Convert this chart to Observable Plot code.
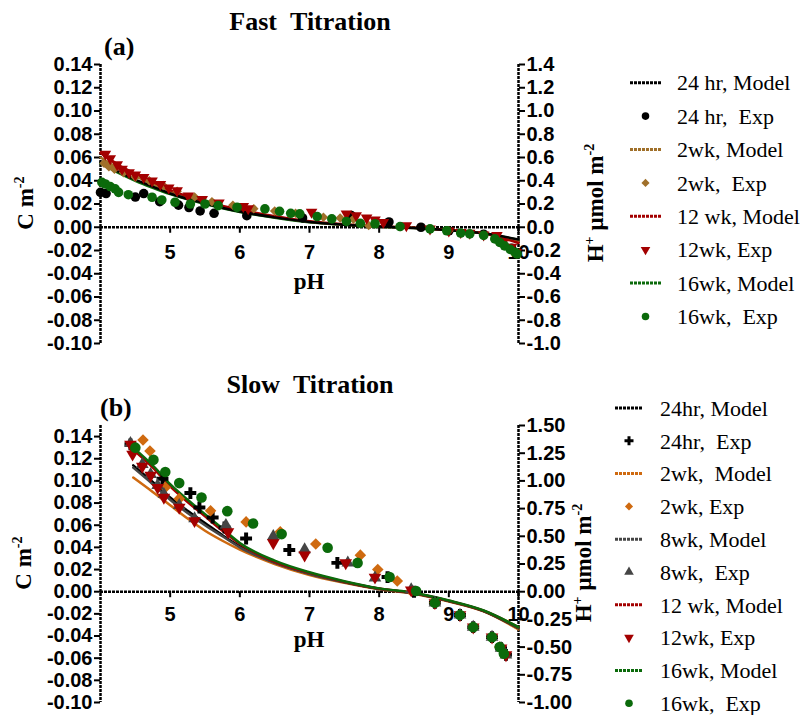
<!DOCTYPE html>
<html><head><meta charset="utf-8">
<script src="https://cdn.jsdelivr.net/npm/d3@7"></script>
<script src="https://cdn.jsdelivr.net/npm/@observablehq/plot@0.6"></script>
<style>
body{margin:0;background:#fff;}
#root{position:relative;width:807px;height:715px;overflow:hidden;background:#fff;}
.abs{position:absolute;white-space:nowrap;line-height:1;}
.title{font-family:"Liberation Serif",serif;font-weight:bold;font-size:26px;transform:translate(-50%,-50%);}
.tag{font-family:"Liberation Serif",serif;font-weight:bold;font-size:26px;transform:translate(0,-50%);}
.ylab{font-family:"Liberation Serif",serif;font-weight:bold;font-size:23px;transform:translate(-50%,-50%) rotate(-90deg);}
.xlab{font-family:"Liberation Serif",serif;font-weight:bold;font-size:23px;transform:translate(-50%,-50%);}
sup{font-size:0.62em;vertical-align:0.6em;line-height:0;}
</style></head><body><div id="root"></div><script>
// ---------- Panel (a): Fast Titration ----------
const fastModelPH   = [4.0, 4.25, 4.5, 4.75, 5.0, 5.5, 6.0, 6.5, 7.0, 7.5, 8.0, 8.5, 9.0, 9.5, 10.0];
const fast24hrModel = [0.056, 0.048, 0.041, 0.035, 0.029, 0.0205, 0.0135, 0.0085, 0.0045, 0.0022, 0.0006, -0.0006, -0.0025, -0.0052, -0.0105];
const fast2wkModel  = [0.060, 0.051, 0.044, 0.037, 0.031, 0.0215, 0.0143, 0.009, 0.0048, 0.0023, 0.0007, -0.0005, -0.0025, -0.0053, -0.012];
const fast12wkModel = [0.064, 0.054, 0.046, 0.039, 0.032, 0.0225, 0.015, 0.0095, 0.0052, 0.0025, 0.0008, -0.0005, -0.0025, -0.0055, -0.0135];
const fast16wkModel = [0.055, 0.047, 0.040, 0.034, 0.0285, 0.020, 0.0132, 0.0082, 0.0043, 0.0021, 0.0005, -0.0006, -0.0026, -0.0052, -0.011];

const fast24hrExpPH = [4.0, 4.08, 4.5, 4.62, 4.85, 5.12, 5.27, 5.43, 5.63, 6.1, 6.9, 7.6, 8.14, 8.6, 9.0, 9.5, 9.9];
const fast24hrExpC  = [0.030, 0.029, 0.026, 0.029, 0.022, 0.019, 0.017, 0.014, 0.012, 0.010, 0.008, 0.010, 0.0045, 0.0, -0.003, -0.006, -0.018];
const fast2wkExpPH  = [4.05, 4.12, 4.2, 4.33, 4.5, 4.7, 4.9, 5.1, 5.35, 5.6, 5.9, 6.2, 6.5, 6.8, 7.2, 7.44, 7.63, 7.85, 8.3, 9.0, 9.5, 9.9];
const fast2wkExpC   = [0.055, 0.052, 0.050, 0.047, 0.043, 0.040, 0.036, 0.031, 0.026, 0.022, 0.019, 0.016, 0.014, 0.012, 0.0086, 0.008, 0.007, 0.0015, 0.0005, -0.003, -0.007, -0.020];
const fast12wkExpPH = [4.07, 4.14, 4.24, 4.31, 4.41, 4.5, 4.62, 4.74, 4.86, 4.98, 5.10, 5.26, 5.46, 5.70, 6.05, 6.12, 7.03, 7.53, 7.67, 7.82, 7.94, 8.06, 8.39, 8.73, 9.0, 9.17, 9.3, 9.5, 9.69, 9.78, 9.9, 9.97];
const fast12wkExpC  = [0.063, 0.059, 0.054, 0.050, 0.047, 0.045, 0.043, 0.040, 0.037, 0.034, 0.0315, 0.027, 0.024, 0.021, 0.018, 0.016, 0.013, 0.0115, 0.010, 0.008, 0.0063, 0.0043, 0.0015, -0.0014, -0.003, -0.0043, -0.005, -0.0065, -0.007, -0.013, -0.017, -0.0215];
const fast16wkExpPH = [4.02, 4.07, 4.14, 4.21, 4.26, 4.4, 4.74, 4.88, 5.07, 5.29, 5.5, 5.69, 5.96, 6.36, 6.57, 6.73, 6.86, 7.11, 7.32, 7.53, 7.73, 7.94, 8.3, 8.73, 8.97, 9.17, 9.3, 9.5, 9.66, 9.73, 9.8, 9.88, 9.95, 9.98];
const fast16wkExpC  = [0.0386, 0.0372, 0.035, 0.033, 0.030, 0.028, 0.0258, 0.0235, 0.0215, 0.020, 0.020, 0.0186, 0.0172, 0.0158, 0.0137, 0.012, 0.0115, 0.0092, 0.0072, 0.005, 0.0034, 0.003, 0.0006, -0.0014, -0.003, -0.005, -0.0057, -0.007, -0.010, -0.013, -0.016, -0.019, -0.0215, -0.023];

const fastLeftTicks  = [-0.10, -0.08, -0.06, -0.04, -0.02, 0.00, 0.02, 0.04, 0.06, 0.08, 0.10, 0.12, 0.14];
const fastRightTicks = [-1.0, -0.8, -0.6, -0.4, -0.2, 0.0, 0.2, 0.4, 0.6, 0.8, 1.0, 1.2, 1.4];
const fastLegend = ["24 hr, Model", "24 hr,  Exp", "2wk, Model", "2wk,  Exp", "12 wk, Model", "12wk, Exp", "16wk, Model", "16wk,  Exp"];

// ---------- Panel (b): Slow Titration ----------
const slowModelPH   = [4.47, 4.75, 5.0, 5.25, 5.5, 5.75, 6.0, 6.5, 7.0, 7.5, 8.0, 8.5, 9.0, 9.5, 10.0];
const slow24hrModel = [0.114, 0.099, 0.085, 0.073, 0.062, 0.051, 0.041, 0.0265, 0.0163, 0.0088, 0.0027, -0.0014, -0.0084, -0.0174, -0.033];
const slow2wkModel  = [0.103, 0.090, 0.078, 0.066, 0.055, 0.046, 0.038, 0.025, 0.015, 0.008, 0.0022, -0.0018, -0.0088, -0.0178, -0.034];
const slow8wkModel  = [0.112, 0.097, 0.083, 0.071, 0.060, 0.050, 0.040, 0.026, 0.016, 0.0085, 0.0025, -0.0015, -0.0085, -0.0175, -0.033];
const slow12wkModel = [0.128, 0.112, 0.095, 0.081, 0.068, 0.055, 0.043, 0.027, 0.017, 0.009, 0.0028, -0.0012, -0.0082, -0.0172, -0.032];
const slow16wkModel = [0.130, 0.114, 0.097, 0.083, 0.070, 0.057, 0.044, 0.028, 0.0175, 0.0095, 0.003, -0.001, -0.008, -0.017, -0.032];

const slow24hrExpPH = [4.43, 4.89, 5.29, 5.42, 5.61, 5.78, 6.09, 6.71, 7.40, 8.12, 8.5, 8.8, 9.16, 9.35, 9.62, 9.75, 9.82];
const slow24hrExpC  = [0.133, 0.102, 0.089, 0.076, 0.067, 0.058, 0.048, 0.0376, 0.026, 0.0132, 0.0, -0.010, -0.021, -0.032, -0.041, -0.051, -0.057];
const slow2wkExpPH  = [4.61, 4.71, 4.93, 5.13, 5.58, 6.09, 6.58, 7.09, 7.73, 7.98, 8.26, 8.46, 8.8, 9.16, 9.35, 9.62, 9.73, 9.8];
const slow2wkExpC   = [0.137, 0.127, 0.094, 0.084, 0.073, 0.063, 0.054, 0.043, 0.033, 0.020, 0.0096, 0.0006, -0.010, -0.021, -0.032, -0.041, -0.050, -0.056];
const slow8wkExpPH  = [4.43, 4.6, 4.72, 4.82, 4.91, 5.13, 5.35, 5.8, 6.48, 6.93, 7.55, 7.94, 8.46, 8.8, 9.16, 9.35, 9.62, 9.75, 9.82];
const slow8wkExpC   = [0.134, 0.115, 0.106, 0.096, 0.088, 0.078, 0.066, 0.060, 0.050, 0.038, 0.026, 0.0126, 0.002, -0.010, -0.021, -0.032, -0.041, -0.051, -0.057];
const slow12wkExpPH = [4.43, 4.46, 4.6, 4.72, 4.82, 4.91, 5.13, 5.35, 5.83, 6.48, 6.93, 7.52, 7.94, 8.46, 8.8, 9.16, 9.35, 9.62, 9.75, 9.82];
const slow12wkExpC  = [0.133, 0.124, 0.113, 0.105, 0.094, 0.085, 0.076, 0.064, 0.054, 0.044, 0.033, 0.026, 0.013, 0.0015, -0.010, -0.021, -0.032, -0.041, -0.051, -0.057];
const slow16wkExpPH = [4.50, 4.76, 4.93, 5.13, 5.45, 5.82, 6.19, 6.60, 7.26, 7.69, 8.15, 8.53, 8.80, 9.16, 9.35, 9.62, 9.73, 9.79];
const slow16wkExpC  = [0.130, 0.119, 0.108, 0.098, 0.085, 0.0727, 0.0616, 0.052, 0.0396, 0.026, 0.0132, 0.0006, -0.010, -0.021, -0.032, -0.041, -0.050, -0.056];

const slowLeftTicks  = [-0.10, -0.08, -0.06, -0.04, -0.02, 0.00, 0.02, 0.04, 0.06, 0.08, 0.10, 0.12, 0.14];
const slowRightTicks = [-1.00, -0.75, -0.50, -0.25, 0.00, 0.25, 0.50, 0.75, 1.00, 1.25, 1.50];
const slowLegend = ["24hr, Model", "24hr,  Exp", "2wk,  Model", "2wk, Exp", "8wk, Model", "8wk,  Exp", "12 wk, Model", "12wk, Exp", "16wk, Model", "16wk,  Exp"];

const xTicks = [5, 6, 7, 8, 9, 10];
const xDomain = [4, 10];

// ---------- styles ----------
const cBlack = "#000000", cBrown = "#a0702a", cRed = "#a30000", cGreen = "#0b6a0b", cOrange = "#cf6a10", cGray = "#454545";
const triangleDown = {
  draw(context, size) {
    const y = -Math.sqrt(size / (Math.sqrt(3) * 3));
    context.moveTo(0, -y * 2);
    context.lineTo(-Math.sqrt(3) * y, y);
    context.lineTo(Math.sqrt(3) * y, y);
    context.closePath();
  }
};

const rows = (xs, ys) => xs.map((x, i) => ({pH: x, C: ys[i]}));

function panel(cfg) {
  const marks = [];
  marks.push(Plot.ruleY([0], {stroke: "black", strokeWidth: 2.5, strokeDasharray: "3,1"}));
  marks.push(Plot.ruleX(xDomain, {stroke: "black", strokeWidth: 2.5, strokeDasharray: "3,1"}));
  marks.push(Plot.axisY(cfg.leftTicks, {anchor: "left", tickFormat: d => d.toFixed(2), tickSize: 6, tickPadding: 2, strokeWidth: 2, label: null}));
  marks.push(Plot.axisY(cfg.rightTicks.map(t => t / 10), {anchor: "right", tickFormat: d => (d * 10).toFixed(cfg.rightDigits), tickSize: 6, tickPadding: 2, strokeWidth: 2, label: null}));
  marks.push(Plot.ruleX(xTicks, {y1: 0, y2: 0, insetBottom: -6, stroke: "black", strokeWidth: 2}));
  marks.push(Plot.text(xTicks, {x: d => d, y: 0, dy: cfg.tickDy, text: d => String(d), fontWeight: "bold", fontSize: 20}));
  for (const m of cfg.models) {
    marks.push(Plot.line(rows(cfg.modelPH, m.values), {x: "pH", y: "C", stroke: m.color, strokeWidth: 2.5, curve: "monotone-x"}));
  }
  for (const e of cfg.exps) {
    marks.push(Plot.dot(rows(e.x, e.y), {x: "pH", y: "C", fill: e.color, stroke: null, symbol: e.symbol, r: e.r}));
  }
  return Plot.plot({
    width: 807, height: cfg.height,
    marginLeft: 100, marginRight: 289, marginTop: cfg.marginTop, marginBottom: cfg.marginBottom,
    x: {domain: xDomain, axis: null},
    y: {domain: cfg.yDomain, axis: null},
    style: {fontFamily: "'Liberation Sans', Arial, sans-serif", fontSize: "20px", fontWeight: "bold", color: "black", background: "transparent", overflow: "visible"},
    marks
  });
}

const root = document.getElementById("root");

const plotA = panel({
  height: 320, marginTop: 24, marginBottom: 17, yDomain: [-0.10, 0.14], tickDy: 25,
  leftTicks: fastLeftTicks, rightTicks: fastRightTicks, rightDigits: 1,
  modelPH: fastModelPH,
  models: [
    {values: fast16wkModel, color: cGreen},
    {values: fast2wkModel, color: cBrown},
    {values: fast12wkModel, color: cRed},
    {values: fast24hrModel, color: cBlack}
  ],
  exps: [
    {x: fast24hrExpPH, y: fast24hrExpC, color: cBlack, symbol: "circle", r: 4.8},
    {x: fast2wkExpPH, y: fast2wkExpC, color: cBrown, symbol: "diamond2", r: 4.3},
    {x: fast12wkExpPH, y: fast12wkExpC, color: cRed, symbol: triangleDown, r: 4.3},
    {x: fast16wkExpPH, y: fast16wkExpC, color: cGreen, symbol: "circle", r: 4.8}
  ]
});
plotA.style.position = "absolute"; plotA.style.left = "0px"; plotA.style.top = "40px";
root.appendChild(plotA);

const plotB = panel({
  height: 315, marginTop: 25, marginBottom: 13, yDomain: [-0.10, 0.15], tickDy: 23,
  leftTicks: slowLeftTicks, rightTicks: slowRightTicks, rightDigits: 2,
  modelPH: slowModelPH,
  models: [
    {values: slow2wkModel, color: cOrange},
    {values: slow24hrModel, color: cBlack},
    {values: slow8wkModel, color: cGray},
    {values: slow12wkModel, color: cRed},
    {values: slow16wkModel, color: cGreen}
  ],
  exps: [
    {x: slow24hrExpPH, y: slow24hrExpC, color: cBlack, symbol: "cross", r: 5},
    {x: slow2wkExpPH, y: slow2wkExpC, color: cOrange, symbol: "diamond2", r: 5.2},
    {x: slow8wkExpPH, y: slow8wkExpC, color: cGray, symbol: "triangle", r: 4.7},
    {x: slow12wkExpPH, y: slow12wkExpC, color: cRed, symbol: triangleDown, r: 4.7},
    {x: slow16wkExpPH, y: slow16wkExpC, color: cGreen, symbol: "circle", r: 5.3}
  ]
});
plotB.style.position = "absolute"; plotB.style.left = "0px"; plotB.style.top = "400px";
root.appendChild(plotB);

// ---------- text labels ----------
function label(cls, html, x, y) {
  const d = document.createElement("div");
  d.className = "abs " + cls;
  d.innerHTML = html;
  d.style.left = x + "px"; d.style.top = y + "px";
  root.appendChild(d);
}
label("title", "Fast&nbsp;&nbsp;Titration", 310, 22);
label("tag", "(a)", 104, 47);
label("title", "Slow&nbsp;&nbsp;Titration", 310, 385);
label("tag", "(b)", 100, 408);
label("ylab", "C m<sup>-2</sup>", 25, 203);
label("ylab", "C m<sup>-2</sup>", 23, 563);
label("xlab", "pH", 309, 281);
label("xlab", "pH", 309, 639);
label("ylab", "H<sup>+</sup> &mu;mol m<sup>-2</sup>", 595, 203);
label("ylab", "H<sup>+</sup> &mu;mol m<sup>-2</sup>", 583, 563);

// ---------- legends ----------
const leg = d3.select(root).append("svg")
  .attr("width", 807).attr("height", 715)
  .style("position", "absolute").style("left", "0px").style("top", "0px");

function drawLegend(items, y0, dy, lx1, lx2, tx) {
  items.forEach((it, i) => {
    const y = y0 + i * dy;
    if (it.kind === "line") {
      leg.append("line").attr("x1", lx1).attr("x2", lx2).attr("y1", y).attr("y2", y)
        .attr("stroke", it.color).attr("stroke-width", 3).attr("stroke-dasharray", "3,1");
    } else {
      leg.append("path").attr("d", d3.symbol(it.symbol, it.size)())
        .attr("transform", `translate(${(lx1 + lx2) / 2},${y})`).attr("fill", it.color);
    }
    leg.append("text").attr("x", tx).attr("y", y).attr("dy", "0.35em")
      .attr("font-family", "'Liberation Serif', serif").attr("font-size", 22)
      .attr("fill", "black").style("white-space", "pre").text(it.label);
  });
}
const fastLegendStyles = [
  {kind: "line", color: cBlack}, {kind: "sym", color: cBlack, symbol: d3.symbolCircle, size: 45},
  {kind: "line", color: cBrown}, {kind: "sym", color: cBrown, symbol: d3.symbolDiamond2, size: 42},
  {kind: "line", color: cRed}, {kind: "sym", color: cRed, symbol: triangleDown, size: 40},
  {kind: "line", color: cGreen}, {kind: "sym", color: cGreen, symbol: d3.symbolCircle, size: 45}
];
const slowLegendStyles = [
  {kind: "line", color: cBlack}, {kind: "sym", color: cBlack, symbol: d3.symbolCross, size: 45},
  {kind: "line", color: cOrange}, {kind: "sym", color: cOrange, symbol: d3.symbolDiamond2, size: 42},
  {kind: "line", color: cGray}, {kind: "sym", color: cGray, symbol: d3.symbolTriangle, size: 40},
  {kind: "line", color: cRed}, {kind: "sym", color: cRed, symbol: triangleDown, size: 40},
  {kind: "line", color: cGreen}, {kind: "sym", color: cGreen, symbol: d3.symbolCircle, size: 45}
];
drawLegend(fastLegend.map((l, i) => ({label: l, ...fastLegendStyles[i]})), 82.7, 33.4, 630, 661, 677);
drawLegend(slowLegend.map((l, i) => ({label: l, ...slowLegendStyles[i]})), 408, 32.8, 615, 643, 660);
</script></body></html>
